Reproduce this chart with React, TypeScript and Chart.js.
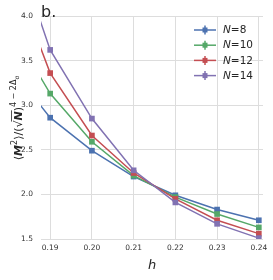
import React, { useEffect, useRef } from "react";
import { Chart, registerables } from "chart.js";
Chart.register(...registerables);

const hValues = [0.18, 0.19, 0.2, 0.21, 0.22, 0.23, 0.24];
const seriesN = ["8", "10", "12", "14"];
const valuesN8 = [3.45, 2.86, 2.49, 2.2, 1.99, 1.83, 1.71];
const valuesN10 = [3.92, 3.13, 2.59, 2.21, 1.97, 1.78, 1.63];
const valuesN12 = [4.59, 3.36, 2.66, 2.24, 1.95, 1.71, 1.56];
const valuesN14 = [4.99, 3.62, 2.85, 2.27, 1.91, 1.67, 1.51];
const seriesValues = [valuesN8, valuesN10, valuesN12, valuesN14];
const colors = ["#4c72b0", "#55a868", "#c44e52", "#8172b2"];
const xTicks = [0.19, 0.2, 0.21, 0.22, 0.23, 0.24];
const yTicks = [1.5, 2.0, 2.5, 3.0, 3.5, 4.0];

const FONT = "'DejaVu Sans', sans-serif";
const TEXT = "#262626";

const overlay = {
  id: "overlay",
  afterDraw(chart: any) {
    const ctx = chart.ctx as CanvasRenderingContext2D;
    const area = chart.chartArea;
    ctx.save();
    // panel label
    ctx.fillStyle = TEXT;
    ctx.font = `16px ${FONT}`;
    ctx.textBaseline = "alphabetic";
    ctx.textAlign = "left";
    ctx.fillText("b.", 41, 17);

    // x label
    ctx.font = `italic 13px ${FONT}`;
    ctx.textAlign = "center";
    ctx.textBaseline = "middle";
    ctx.fillText("h", (area.left + area.right) / 2, 266);

    // y label
    ctx.save();
    ctx.translate(22, 118);
    ctx.rotate(-Math.PI / 2);
    ctx.textAlign = "left";
    ctx.textBaseline = "alphabetic";
    const pieces: { t: string; f: string; dy: number; over?: boolean }[] = [
      { t: "⟨", f: `11px ${FONT}`, dy: 0 },
      { t: "M", f: `bold italic 11px ${FONT}`, dy: 0 },
      { t: "2", f: `8px ${FONT}`, dy: -5 },
      { t: "⟩/(", f: `11px ${FONT}`, dy: 0 },
      { t: "√", f: `11px ${FONT}`, dy: 0 },
      { t: "N", f: `bold italic 11px ${FONT}`, dy: 0, over: true },
      { t: ")", f: `11px ${FONT}`, dy: 0 },
      { t: "4 − 2Δ", f: `8px ${FONT}`, dy: -6 },
      { t: "σ", f: `6px ${FONT}`, dy: -3 },
    ];
    let total = 0;
    for (const p of pieces) {
      ctx.font = p.f;
      total += ctx.measureText(p.t).width;
    }
    let x = -total / 2;
    for (const p of pieces) {
      ctx.font = p.f;
      const w = ctx.measureText(p.t).width;
      ctx.fillText(p.t, x, p.dy);
      if (p.over) {
        ctx.strokeStyle = TEXT;
        ctx.lineWidth = 0.8;
        ctx.beginPath();
        ctx.moveTo(x - 1, -10.5);
        ctx.lineTo(x + w + 1, -10.5);
        ctx.stroke();
      }
      x += w;
    }
    ctx.restore();

    // legend
    seriesN.forEach((n, i) => {
      const y = 30 + i * 15.2;
      ctx.strokeStyle = colors[i];
      ctx.fillStyle = colors[i];
      ctx.lineWidth = 1.5;
      ctx.beginPath();
      ctx.moveTo(194, y);
      ctx.lineTo(216, y);
      ctx.stroke();
      ctx.beginPath();
      ctx.moveTo(205, y - 4.5);
      ctx.lineTo(205, y + 4.5);
      ctx.stroke();
      ctx.fillRect(202.5, y - 2.5, 5, 5);
      ctx.fillStyle = TEXT;
      ctx.textAlign = "left";
      ctx.textBaseline = "middle";
      ctx.font = `italic 10.5px ${FONT}`;
      ctx.fillText("N", 223, y + 0.5);
      const wN = ctx.measureText("N").width;
      ctx.font = `10.5px ${FONT}`;
      ctx.fillText("=" + n, 223 + wN, y + 0.5);
    });
    ctx.restore();
  },
};

export default function App() {
  const ref = useRef<HTMLCanvasElement>(null);
  useEffect(() => {
    const chart = new Chart(ref.current!, {
      type: "line",
      data: {
        datasets: seriesValues.map((vals, i) => ({
          label: "N=" + seriesN[i],
          data: hValues.map((h, j) => ({ x: h, y: vals[j] })),
          borderColor: colors[i],
          backgroundColor: colors[i],
          borderWidth: 1.5,
          pointStyle: "rect",
          pointRadius: 4,
          pointBorderWidth: 0,
          order: 3 - i,
        })),
      },
      options: {
        animation: false,
        responsive: false,
        maintainAspectRatio: false,
        layout: { padding: { top: 16, right: 10, left: 0, bottom: 0 } },
        plugins: { legend: { display: false }, tooltip: { enabled: false } },
        scales: {
          x: {
            type: "linear",
            min: 0.1878,
            max: 0.241,
            afterBuildTicks: (s: any) => {
              s.ticks = xTicks.map((v) => ({ value: v }));
            },
            afterFit: (s: any) => {
              s.height = 41;
            },
            grid: { color: "#dddddd", lineWidth: 1, drawTicks: false },
            border: { display: false },
            ticks: {
              padding: 5,
              color: "#333333",
              font: { family: "DejaVu Sans", size: 7.5 },
              callback: (v: any) => Number(v).toFixed(2),
            },
          },
          y: {
            type: "linear",
            min: 1.5,
            max: 4.0,
            afterBuildTicks: (s: any) => {
              s.ticks = yTicks.map((v) => ({ value: v }));
            },
            afterFit: (s: any) => {
              s.width = 41;
            },
            grid: { color: "#dddddd", lineWidth: 1, drawTicks: false },
            border: { display: false },
            ticks: {
              padding: 8,
              color: "#333333",
              font: { family: "DejaVu Sans", size: 7.5 },
              callback: (v: any) => Number(v).toFixed(1),
            },
          },
        },
      },
      plugins: [overlay],
    } as any);
    return () => chart.destroy();
  }, []);
  return (
    <div style={{ position: "fixed", left: 0, top: 0, width: 273, height: 280 }}>
      <canvas ref={ref} width={273} height={280} style={{ width: 273, height: 280 }} />
    </div>
  );
}
